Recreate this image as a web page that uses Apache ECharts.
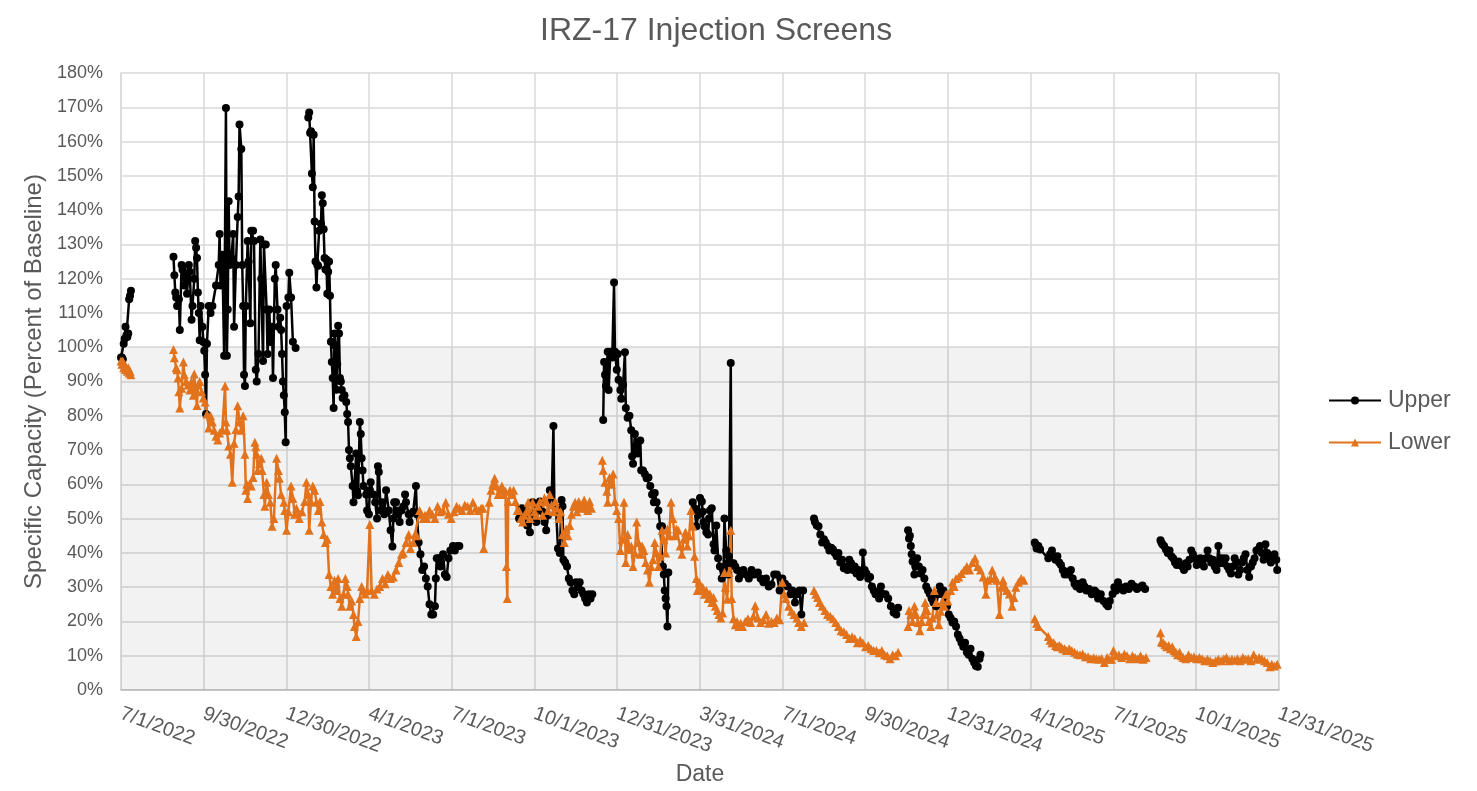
<!DOCTYPE html>
<html>
<head>
<meta charset="utf-8">
<title>IRZ-17 Injection Screens</title>
<script src="https://cdn.jsdelivr.net/npm/echarts@6/dist/echarts.min.js"></script>
<style>
  html, body { margin: 0; padding: 0; background: #fff; }
  #chart { width: 1477px; height: 791px; }
</style>
</head>
<body>
<div id="chart"></div>
<script>
// day 0 = 7/1/2022; major unit 91.4 days like the original date axis
var startDate = Date.UTC(2022, 6, 1);
var axisMaxDay = 1280;
var majorUnit = 91.4;
var baselineBand = [0, 100];   // shaded 0-100% band

// each run is a block of [day, percent]; a new run starts after a data gap
var upperRuns = [
  [[0,97],[1,97],[2,96.5],[3,101],[4,102.5],[5,106],[6,103.5],[7,103],[8,104],[9,114],[10,115],[11,116.5]],
  [[58,126.4],[59,121],[60,116],[61,114.5],[62,112],[64,114],[65,105],[67,124],[68,122.6],[70,118],[71,121],[73,115.6],[75,124],[76,122],[78,108],[79,112],[81,120],[82,131],[83,129],[84,126],[85,116],[86,110],[87,102],[88,112],[90,106],[91,101.5],[92,99],[93,92],[94,80.5],[95,101],[97,112],[99,110],[101,112],[105,118],[108,124],[109,133],[110,118],[112,127],[114,97.5],[116,169.8],[117,97.5],[118,111],[119,142.6],[120,124],[122,126],[124,133],[125,106],[127,124],[129,138],[130,144],[131,165],[133,157.8],[134,124],[135,112],[136,92],[137,88.7],[138,112],[140,131],[141,125],[143,107],[144,134],[146,134],[147,131],[149,93.4],[150,90],[152,98],[154,131.4],[155,120],[157,96],[158,130],[160,130],[161,111],[162,98],[164,111],[165,101.5],[167,106],[168,91],[170,120],[171,124],[173,111],[174,106],[176,108.6],[177,105],[178,98],[179,90],[180,86],[181,81],[182,72.3],[183,112],[185,114.5],[186,121.7],[188,114.5],[190,101.6],[193,99.8]],
  [[207,167],[208,168.5],[209,162.5],[210,163],[211,150.7],[212,146.7],[213,162],[214,136.7],[215,125],[216,117.4],[217,124],[218,123.8],[219,134],[221,136],[222,144.3],[223,142],[224,134.4],[225,126],[226,122.7],[227,125.6],[228,115.6],[229,122],[230,125],[231,115],[232,101.6],[233,95.7],[234,91],[235,82.3],[236,104],[237,100.4],[238,87.6],[239,95],[240,106.3],[241,104],[242,91],[243,90],[244,87.5],[245,85.2],[247,86],[249,84],[250,80.5],[251,78.2],[252,70],[253,67.6],[254,65.3],[256,59.5],[257,54.8],[258,60],[260,69],[261,58],[262,56.8],[264,78.2],[265,74.7],[266,67.6],[267,64],[268,59.5],[271,57],[272,52.4],[274,51.3],[275,58.3],[276,60.6],[279,57],[281,54.8],[283,50],[284,65.3],[285,63.6],[287,52.4],[289,54.8],[291,51.3],[293,58.3],[296,52.4],[298,46.6],[300,41.9],[301,50],[302,54.8],[304,54.8],[305,51.3],[307,52.4],[308,49],[310,52.4],[312,53.5],[314,57],[315,54.8],[318,51.3],[319,49],[323,52],[326,59.5],[327,51.3],[329,43],[331,39.6],[333,35],[335,36],[337,32.5],[339,30.2],[341,25],[343,22],[345,22],[347,24.4],[348,32.5],[349,38.4],[351,38.4],[353,36],[356,39.6],[358,33.7],[360,33],[362,38.4],[364,40.7],[367,42],[369,40.7],[372,42],[374,42]],
  [[440,50],[443,53],[446,51],[449,48],[452,46],[455,54.8],[457,51],[459,49],[461,53],[463,55],[466,52],[468,49],[470,46.6],[472,51],[474,58.3],[476,55],[478,77],[479,54],[481,52.4],[483,41.3],[485,40],[487,55.4],[488,53.6],[489,38],[491,37.2],[493,36],[495,32.5],[497,31.4],[499,29],[501,27.9],[503,31.4],[505,30],[507,31.4],[509,29],[511,28],[513,26.7],[515,25.5],[517,27.9],[519,26.7],[521,27.9]],
  [[533,78.8],[534,95.7],[535,92],[536,88.7],[538,98.7],[539,87.5],[541,98.7],[543,97],[545,118.9],[546,98.7],[548,93.4],[549,98],[550,90.5],[552,87.5],[553,85],[555,89],[557,98.5],[558,82.3],[560,79.4],[562,80],[564,75.8],[565,68.2],[566,66],[568,74.7],[570,71.2],[571,69],[574,72.8],[575,64.1],[577,64],[579,63],[581,61.8],[583,62],[585,59.5],[587,57],[589,54.8],[590,57.5],[592,54.8],[594,52.4],[596,47.8],[598,47.8],[599,36],[600,33.7],[601,29],[602,26.7],[603,24.4],[604,18.5],[605,34.3]],
  [[632,54.8],[634,53],[636,47.8],[638,51],[640,56],[642,55],[643,52],[644,49],[645,47.8],[647,46],[649,45.4],[650,50],[651,52.4],[653,53],[655,42.5],[656,40.7],[658,48],[660,38.4],[662,36],[664,32.5],[666,35],[667,50],[669,40.7],[670,37],[671,33.7],[672,39],[674,95.4],[675,37],[677,37],[679,36],[681,35],[683,32.5],[685,33.7],[688,35],[691,33.7],[694,32.5],[697,35],[700,33.7],[704,34.3],[707,32.5],[710,31.4],[713,32.5],[716,30.2],[719,30.8],[722,33.7],[725,33.7],[728,29],[731,32.5],[734,31],[737,30.2],[740,27.9],[742,29],[745,25.5],[747,27.9],[750,29],[752,22],[754,29]],
  [[766,50],[767,49],[769,48],[771,47.8],[773,45.4],[775,43],[777,44],[779,43],[781,42],[783,40.7],[785,41.5],[787,41],[789,40],[791,39],[793,40],[795,37.2],[797,38],[799,35.5],[801,36],[803,35],[805,38],[807,37],[809,35],[811,36],[813,34],[815,35],[817,33],[819,34],[820,40.1],[822,35],[824,34],[826,32.5],[828,33],[830,30.2],[832,29],[834,27.9],[836,28.5],[838,26.7],[840,30.2],[842,28],[845,27.9],[848,26.7],[851,24.4],[854,22.6],[857,22],[859,24]],
  [[870,46.6],[871,44.2],[872,45],[873,42],[874,39.6],[875,37.5],[877,33.7],[878,36],[880,38.4],[882,36],[884,34],[886,35],[888,32.5],[890,30.2],[892,29],[894,28],[896,26.7],[898,25.5],[901,24.4],[903,27.9],[905,30.2],[907,28],[909,29],[911,26],[913,24.4],[915,22],[917,21],[919,19.7],[921,20],[923,18.5],[925,16.2],[927,15],[929,13.8],[931,12.6],[933,13.8],[935,11],[937,10.3],[939,12],[941,9.1],[943,8],[945,7],[947,6.8],[949,9.1],[950,10.3]],
  [[1010,43],[1011,42.5],[1012,41.3],[1014,42],[1016,41],[1025,38.4],[1027,39.6],[1029,40.7],[1031,39],[1033,38],[1035,39],[1037,37.2],[1039,36.5],[1041,35],[1043,33.7],[1045,34.5],[1047,33.7],[1050,35],[1052,32.5],[1054,31],[1056,30.2],[1058,31],[1060,29.5],[1063,31.4],[1065,30.2],[1067,29],[1070,29.5],[1073,27.9],[1076,29],[1078,28.5],[1080,26.7],[1083,27.9],[1086,26],[1089,25],[1091,24.4],[1093,26],[1096,28],[1098,30],[1100,29],[1102,31.4],[1105,30],[1108,29],[1111,30.2],[1114,29.5],[1117,31],[1120,30.2],[1123,29.5],[1126,30],[1129,30.5],[1132,29.5]],
  [[1149,43.7],[1150,43],[1151,42.5],[1153,42],[1155,41],[1157,40],[1159,40.7],[1161,39],[1163,38.4],[1165,37.2],[1167,36.5],[1169,37.5],[1171,36.5],[1173,36],[1175,35],[1177,37],[1179,36],[1181,38],[1183,40.7],[1185,39.5],[1187,38.4],[1189,36.5],[1191,37.5],[1193,38.4],[1195,37.2],[1197,36],[1199,38.4],[1201,40.7],[1203,38.4],[1205,37.2],[1207,38],[1209,36],[1211,35],[1213,42],[1215,37],[1217,38.4],[1219,37],[1221,38.4],[1223,36],[1225,35],[1227,34],[1229,36],[1231,38.4],[1233,37.2],[1235,33.7],[1237,35],[1239,37.2],[1241,38.4],[1243,39.6],[1245,35],[1247,33],[1249,36],[1251,37.2],[1253,38.4],[1255,40.7],[1257,41],[1259,42],[1261,40],[1263,38],[1265,42.5],[1267,40],[1269,38.4],[1271,37.2],[1273,38],[1275,39.6],[1277,38],[1278,35]]
];

var lowerRuns = [
  [[0,96],[1,95],[2,96],[3,94],[4,95],[5,93.5],[6,94],[7,93],[8,94],[9,92.5],[10,93],[11,92]],
  [[58,99.3],[59,96.9],[61,94],[62,93.4],[63,91],[64,87],[65,82.3],[67,88],[69,95.7],[70,92],[72,90],[74,89],[76,87.5],[78,90],[80,86],[81,92.2],[82,88],[84,83],[85,89],[87,90],[89,87],[91,85.2],[93,84],[95,80.5],[97,76.4],[99,80],[101,78.2],[103,75.8],[105,74],[107,72.9],[109,75],[112,76],[115,88.7],[116,78.2],[117,75.8],[119,71.2],[121,68.8],[123,60.6],[125,72],[127,76],[129,82.9],[131,78.2],[133,75.8],[135,80],[137,68.8],[138,58.3],[139,60],[140,55.9],[142,60],[144,59.5],[146,62],[148,72.3],[149,71],[150,68.8],[151,64],[153,66],[155,67.6],[156,64],[158,57],[159,53.6],[161,60.6],[163,57],[165,54.8],[167,47.8],[169,50],[172,67.6],[174,64],[175,61.8],[177,57],[180,54.8],[181,52.4],[183,46.6],[185,52],[188,59.5],[190,55.9],[192,51.3],[194,53],
   [197,50],[200,52],[203,55],[205,60.6],[207,57],[208,46.6],[210,55],[212,59.5],[214,58.3],[216,54.8],[218,52.4],[220,55],[222,49],[224,45.4],[226,43],[228,44],[230,33.7],[232,30.2],[234,27.9],[236,32],[238,29],[240,32.5],[242,26.7],[244,24.4],[246,28],[248,32.5],[250,30.2],[251,27.9],[253,24.4],[255,26],[257,22],[258,18.5],[260,15.6],[262,20],[264,26.7],[266,30.2],[268,29],[270,28],[272,29],[275,48.3],[277,29],[280,27.9],[283,29.5],[286,30.2],[289,32.5],[292,31],[295,33.7],[298,32.5],[301,33],[304,35],[307,37.2],[310,39.6],[312,40],[315,43],[318,45.4],[320,41.3],[323,43],[325,45.4],[327,45],[330,52.4],[332,51.3],[334,50],[336,51],[338,50],[341,52.4],[344,51.3],[347,50],[350,53.6],[353,52],[356,52.4],[359,54.8],[362,51.3],[365,50],[368,52],[371,53.6],[374,53],[377,52.4],[380,54],[383,53.6],[386,52.4],[389,54.8],[392,53],[395,52.4],[398,53],[400,53],[401,41.3],
   [407,54.8],[409,58.3],[411,60],[413,61.8],[415,59.5],[417,57],[419,58.3],[421,59.5],[423,57],[425,58],[426,36],[427,26.7],[428,55],[430,58.3],[432,57],[434,58.3],[436,55],[438,52.4],[440,52.4],[442,50],[444,49],[446,51],[448,52],[450,54.8],[452,50],[455,54.8],[457,52],[459,51],[461,53.6],[463,55],[466,51],[468,56],[470,55],[472,52.4],[474,57],[476,54],[478,52],[480,55],[482,53],[484,50],[486,52],[488,45.4],[490,43],[492,47],[494,45],[496,48],[498,51.3],[500,53.6],[502,54.8],[504,52],[506,55],[508,53],[510,54],[512,55.4],[514,53],[516,52.4],[518,55],[520,53]],
  [[532,67],[533,64.1],[535,60.6],[537,58],[538,54.8],[540,62],[542,60],[544,63],[546,55],[548,52.4],[550,50],[552,40.7],[554,44],[556,54.8],[558,37.2],[560,45.4],[562,41],[564,42],[566,36],[568,40],[570,49],[572,43],[574,39.6],[576,42],[578,40.7],[580,37.2],[582,35],[584,31.4],[586,36],[588,38],[590,43],[592,40],[594,36],[596,39],[598,46.6],[600,44],[602,40],[604,47],[606,45],[608,54.8],[610,50],[612,45],[614,47],[616,46.6],[618,42],[620,39.6],[622,44],[624,46],[626,42],[628,45],
   [630,52.4],[632,47.8],[634,39],[636,32.5],[637,29],[639,31.4],[641,29],[643,30],[645,27.9],[647,29],[649,26.7],[651,28],[653,25.5],[655,27],[657,24.4],[659,23.2],[661,22],[663,21],[665,22.5],[667,34.3],[668,30],[670,26.5],[672,34.3],[674,46.6],[675,26.7],[677,20.8],[679,19],[681,20],[683,18.5],[685,19.5],[687,18.5],[690,20],[693,20.8],[696,19.7],[699,21.5],[701,24.6],[704,21],[707,19.7],[710,20.5],[713,22],[716,19.5],[719,20],[722,19.7],[725,21],[728,20.5],[731,31.4],[733,28],[735,26.7],[738,24.4],[741,23],[744,22],[747,21],[749,19.7],[752,18.5],[755,19.7]],
  [[766,29],[768,27.9],[770,27],[772,25.5],[775,24.4],[778,23.2],[781,22],[784,21.5],[787,20.8],[790,19.7],[793,18.5],[796,17.3],[799,17],[802,16.2],[805,15],[808,15.5],[811,15],[814,13.8],[817,14.5],[820,13.8],[823,12.6],[826,13],[829,12],[832,11.5],[835,11.5],[838,10.9],[841,11.5],[844,10.3],[847,10],[850,9.1],[853,10.3],[856,10],[859,11]],
  [[870,18.5],[871,23.2],[873,22],[875,20],[877,24.4],[879,22],[881,19.7],[883,17.3],[885,20],[887,22],[889,25.5],[891,23.2],[893,20],[895,18.5],[897,21],[899,29],[901,25.5],[902,22],[904,19],[906,23],[908,26],[910,24.4],[912,27.9],[914,26],[917,29],[919,31.4],[921,30.2],[923,32.5],[926,33],[929,34],[932,35],[935,36],[938,35],[941,37.2],[944,38.4],[947,36],[950,35],[953,33],[956,27.9],[958,32],[961,32.5],[963,35],[966,33],[968,32],[971,22],[973,30],[975,32],[977,30.2],[979,29],[982,28],[985,24.4],[987,27],[989,30],[992,31.4],[995,32.5],[998,32]],
  [[1010,20.8],[1012,19.5],[1014,18.5],[1025,15.6],[1027,14.5],[1029,13.8],[1031,13.8],[1033,13],[1035,12.6],[1037,13],[1039,12.6],[1041,12],[1043,12],[1045,11.5],[1048,12],[1051,11.5],[1054,11],[1057,10.5],[1060,10.3],[1063,10.5],[1066,9.7],[1069,9.7],[1072,9.1],[1075,9.4],[1078,9.1],[1081,9],[1084,9.2],[1087,8],[1090,9.5],[1092,9],[1095,9],[1097,11.5],[1100,10],[1103,10.3],[1106,9.5],[1109,10.5],[1112,10],[1115,9.1],[1118,10],[1121,9.5],[1124,9.1],[1127,10],[1130,9],[1133,9.5]],
  [[1149,16.7],[1150,14],[1152,13.8],[1154,13.2],[1156,12.6],[1158,13],[1160,12],[1162,12.6],[1164,11.5],[1166,11],[1168,10.3],[1170,11],[1172,10],[1174,9.5],[1177,9.1],[1180,10.3],[1183,9.5],[1186,9.7],[1189,9.1],[1192,9.5],[1195,9.1],[1198,8.5],[1201,9],[1204,8.5],[1207,8],[1210,8.5],[1213,9],[1216,8.5],[1219,9.1],[1222,9.5],[1225,8.5],[1228,9],[1231,8.7],[1234,9.1],[1237,8.5],[1240,9.5],[1243,9],[1246,9.1],[1249,8.5],[1252,10.3],[1255,9],[1258,9.5],[1261,9.1],[1264,8.5],[1267,8],[1270,6.8],[1272,7.5],[1275,7],[1278,7.5]]
];

// join runs, leaving a break between them so the line is not drawn across gaps
function joinRuns(runs) {
  var out = [];
  runs.forEach(function (run, i) {
    if (i > 0) out.push([run[0][0] - 0.5, '-']);
    out = out.concat(run);
  });
  return out;
}

function dayLabel(v) {
  var steps = v / majorUnit;
  if (Math.abs(steps - Math.round(steps)) > 0.01) return '';
  var d = new Date(startDate + Math.floor(v + 1e-6) * 86400000);
  return (d.getUTCMonth() + 1) + '/' + d.getUTCDate() + '/' + d.getUTCFullYear();
}

var textColor = '#595959';
var gridColor = '#d9d9d9';
var orange = '#E2731C';
var font = 'Arial, "Liberation Sans", sans-serif';

var chart = echarts.init(document.getElementById('chart'));
chart.setOption({
  animation: false,
  backgroundColor: '#fff',
  textStyle: { fontFamily: font },
  title: {
    text: 'IRZ-17 Injection Screens',
    left: 535,
    top: 10,
    textStyle: { color: textColor, fontSize: 32, fontWeight: 'normal', fontFamily: font }
  },
  legend: {
    orient: 'vertical',
    left: 1323,
    top: 384,
    itemWidth: 52,
    itemHeight: 10,
    itemGap: 19,
    data: ['Upper', 'Lower'],
    textStyle: { color: textColor, fontSize: 23, fontFamily: font, padding: [0, 0, 0, 2] }
  },
  grid: { left: 121, right: 198, top: 73, bottom: 99 },
  xAxis: {
    type: 'value',
    min: 0,
    max: axisMaxDay,
    interval: majorUnit,
    name: 'Date',
    nameLocation: 'middle',
    nameGap: 73,
    nameTextStyle: { color: textColor, fontSize: 23, fontFamily: font },
    axisLine: { show: true, lineStyle: { color: '#bfbfbf', width: 1.5 } },
    axisTick: { show: false },
    splitLine: { show: true, lineStyle: { color: gridColor, width: 1.5 } },
    axisLabel: {
      color: textColor,
      fontSize: 20,
      fontFamily: font,
      rotate: -20,
      margin: 23,
      formatter: dayLabel
    }
  },
  yAxis: {
    type: 'value',
    min: 0,
    max: 180,
    interval: 10,
    name: 'Specific Capacity (Percent of Baseline)',
    nameLocation: 'middle',
    nameGap: 73,
    nameTextStyle: { color: textColor, fontSize: 24, fontFamily: font },
    axisLine: { show: true, lineStyle: { color: gridColor, width: 1.5 } },
    axisTick: { show: false },
    splitLine: { show: true, lineStyle: { color: gridColor, width: 1.5 } },
    axisLabel: { color: textColor, fontSize: 18, fontFamily: font, margin: 18, formatter: '{value}%' }
  },
  series: [
    {
      name: 'Upper',
      type: 'line',
      data: joinRuns(upperRuns),
      connectNulls: false,
      symbol: 'circle',
      symbolSize: 8,
      color: '#000000',
      lineStyle: { color: '#000000', width: 2.5 },
      itemStyle: { color: '#000000' },
      markArea: {
        silent: true,
        itemStyle: { color: 'rgba(0,0,0,0.05)' },
        data: [[{ yAxis: baselineBand[0] }, { yAxis: baselineBand[1] }]]
      }
    },
    {
      name: 'Lower',
      type: 'line',
      data: joinRuns(lowerRuns),
      connectNulls: false,
      symbol: 'triangle',
      symbolSize: 9,
      color: orange,
      lineStyle: { color: orange, width: 2.5 },
      itemStyle: { color: orange }
    }
  ]
});
</script>
</body>
</html>
